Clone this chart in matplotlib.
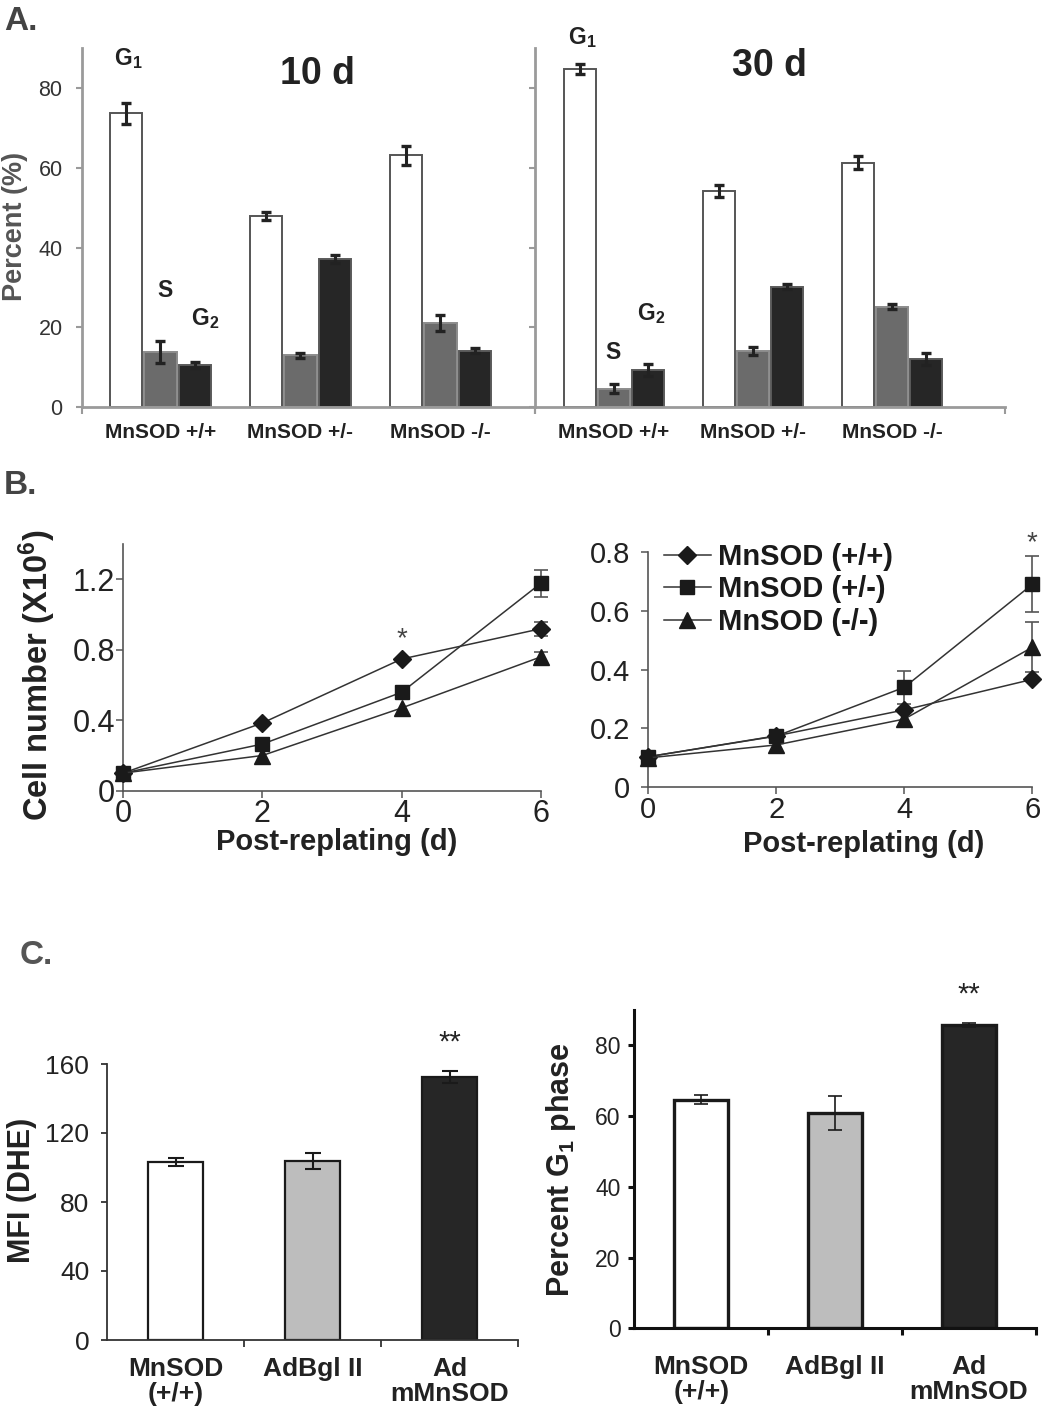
import numpy as np
import matplotlib
matplotlib.use('Agg')
import matplotlib.pyplot as plt
from matplotlib.ticker import FixedLocator

plt.rcParams['font.family'] = ['Liberation Sans', 'DejaVu Sans']
plt.rcParams['mathtext.fontset'] = 'custom'
plt.rcParams['mathtext.rm'] = 'Liberation Sans'
plt.rcParams['mathtext.bf'] = 'Liberation Sans:bold'
plt.rcParams['mathtext.it'] = 'Liberation Sans:italic'

# ---------------- data ----------------
genotypes = ['MnSOD +/+', 'MnSOD +/-', 'MnSOD -/-']
phase_labels = [r'$\mathbf{G_1}$', 'S', r'$\mathbf{G_2}$']

d10_g1 = [73.6, 48.0, 63.1]
d10_g1_err = [2.7, 1.0, 2.3]
d10_s = [13.8, 13.0, 21.1]
d10_s_err = [2.7, 0.6, 2.0]
d10_g2 = [10.6, 37.1, 14.2]
d10_g2_err = [0.7, 1.0, 0.7]

d30_g1 = [84.75, 54.3, 61.3]
d30_g1_err = [1.2, 1.5, 1.6]
d30_s = [4.65, 14.1, 25.2]
d30_s_err = [1.1, 1.0, 0.7]
d30_g2 = [9.25, 30.2, 12.1]
d30_g2_err = [1.5, 0.6, 1.5]

days = [0, 2, 4, 6]
series_names = ['MnSOD (+/+)', 'MnSOD (+/-)', 'MnSOD (-/-)']
b1_wt = [0.10, 0.385, 0.748, 0.92]
b1_wt_err = [0, 0, 0, 0.04]
b1_het = [0.10, 0.265, 0.559, 1.178]
b1_het_err = [0, 0, 0, 0.075]
b1_ko = [0.10, 0.20, 0.47, 0.76]
b1_ko_err = [0, 0, 0, 0.03]

b2_wt = [0.104, 0.175, 0.263, 0.367]
b2_wt_err = [0, 0, 0, 0]
b2_het = [0.104, 0.174, 0.34, 0.69]
b2_het_err = [0, 0, 0.057, 0.095]
b2_ko = [0.10, 0.144, 0.232, 0.476]
b2_ko_err = [0, 0, 0, 0.085]

c_groups = ['MnSOD\n(+/+)', 'AdBgl II', 'Ad\nmMnSOD']
mfi = [103.0, 103.8, 152.5]
mfi_err = [2.3, 4.4, 3.5]
g1pct = [64.6, 60.85, 85.8]
g1pct_err = [1.3, 4.9, 0.6]

# ---------------- layout ----------------
W, H = 1050, 1415
fig = plt.figure(figsize=(W / 100, H / 100), dpi=100)


def rect(x0, x1, yt, yb):
    return [x0 / W, 1 - yb / H, (x1 - x0) / W, (yb - yt) / H]


# ================= Panel A =================
AGREY = '#9a9a9a'


def panel_a(ax, g1, g1e, s, se, g2, ge, xlim, show_ylabels):
    x = np.arange(len(genotypes))
    specs = [(-0.245, g1, g1e, 'white', '#555555'),
             (0.0, s, se, '#6b6b6b', '#8c8c8c'),
             (0.245, g2, ge, '#262626', '#5a5a5a')]
    for off, vals, errs, fc, ec in specs:
        ax.bar(x + off, vals, 0.23, color=fc, edgecolor=ec, linewidth=1.4, zorder=2)
        ax.errorbar(x + off, vals, yerr=errs, fmt='none', ecolor='#222222',
                    elinewidth=2.2, capsize=3.5, capthick=2.4, zorder=3)
    ax.set_xlim(*xlim)
    ax.set_ylim(0, 90)
    for sp in ['top', 'right']:
        ax.spines[sp].set_visible(False)
    for sp in ['left', 'bottom']:
        ax.spines[sp].set_color(AGREY)
        ax.spines[sp].set_linewidth(2)
    ax.set_yticks([0, 20, 40, 60, 80])
    ax.tick_params(axis='y', direction='out', length=4, width=1.5, color=AGREY,
                   labelsize=15.5, labelcolor='#333333', pad=10, labelleft=show_ylabels)
    ax.set_xticks(x)
    ax.set_xticklabels(genotypes, fontsize=15, fontweight='bold', color='#222222')
    ax.tick_params(axis='x', which='major', length=0, pad=11)
    ax.xaxis.set_minor_locator(FixedLocator([xlim[0], xlim[1]]))
    ax.tick_params(axis='x', which='minor', direction='out', length=5, width=1.5, color=AGREY)


axA1 = fig.add_axes(rect(82, 535, 48, 407.3))
panel_a(axA1, d10_g1, d10_g1_err, d10_s, d10_s_err, d10_g2, d10_g2_err, (-0.56, 2.675), True)
axA2 = fig.add_axes(rect(535, 1005, 48, 407.3))
panel_a(axA2, d30_g1, d30_g1_err, d30_s, d30_s_err, d30_g2, d30_g2_err, (-0.568, 2.81), False)

axA1.text(1.12, 83.6, '10 d', fontsize=27, fontweight='bold', ha='center', va='center', color='#222222')
axA2.text(1.12, 85.6, '30 d', fontsize=27, fontweight='bold', ha='center', va='center', color='#222222')

for ax, pos in [(axA1, [(-0.23, 87.3), (0.03, 29.3), (0.32, 22.3)]),
                (axA2, [(-0.23, 92.6), (-0.01, 13.8), (0.27, 23.6)])]:
    for lab, (px, py) in zip(phase_labels, pos):
        ax.text(px, py, lab, fontsize=16.5, fontweight='bold', ha='center', va='center',
                color='#222222', clip_on=False)

fig.text(15 / W, 1 - 226 / H, 'Percent (%)', rotation=90, fontsize=19.5, fontweight='bold',
         color='#555555', ha='center', va='center')
fig.text(4 / W, 1 - 22 / H, 'A.', fontsize=24, fontweight='bold', color='#444444', ha='left', va='center')

# ================= Panel B =================
BGREY = '#555555'
markers = ['D', 's', '^']
msizes = [9.5, 10.5, 12]


def panel_b(ax, series, errs, ylim, yticks, yticklabels, ylabsize, ypad):
    handles = []
    for vals, err, m, ms in zip(series, errs, markers, msizes):
        idx = [i for i, e in enumerate(err) if e > 0]
        if idx:
            ax.errorbar([days[i] for i in idx], [vals[i] for i in idx],
                        yerr=[err[i] for i in idx], fmt='none', ecolor='#555555',
                        elinewidth=1.2, capsize=5, capthick=1.2, zorder=2, clip_on=False)
        ln, = ax.plot(days, vals, color='#333333', lw=1.1, marker=m, ms=ms,
                      mfc='#1a1a1a', mec='#1a1a1a', zorder=3, clip_on=False)
        handles.append(ln)
    ax.set_xlim(0, 6)
    ax.set_ylim(*ylim)
    for sp in ['top', 'right']:
        ax.spines[sp].set_visible(False)
    for sp in ['left', 'bottom']:
        ax.spines[sp].set_color(BGREY)
        ax.spines[sp].set_linewidth(1.2)
    ax.set_xticks(days)
    ax.set_xticklabels([str(d) for d in days])
    ax.set_yticks(yticks)
    ax.set_yticklabels(yticklabels)
    ax.tick_params(direction='out', length=5, width=1.1, color=BGREY,
                   labelsize=ylabsize, labelcolor='#222222')
    ax.tick_params(axis='y', pad=ypad)
    ax.tick_params(axis='x', pad=1)
    return handles


axB1 = fig.add_axes(rect(123.3, 540.7, 544.3, 790.7))
panel_b(axB1, [b1_wt, b1_het, b1_ko], [b1_wt_err, b1_het_err, b1_ko_err],
        (0, 1.4), [0, 0.4, 0.8, 1.2], ['0', '0.4', '0.8', '1.2'], 22, 1)
axB2 = fig.add_axes(rect(648.3, 1032.3, 552, 787.3))
hB2 = panel_b(axB2, [b2_wt, b2_het, b2_ko], [b2_wt_err, b2_het_err, b2_ko_err],
              (0, 0.8), [0, 0.2, 0.4, 0.6, 0.8], ['0', '0.2', '0.4', '0.6', '0.8'], 21, 8)

axB1.text(4, 0.86, '*', fontsize=20, ha='center', va='center', color='#444444')
axB2.text(6, 0.83, '*', fontsize=20, ha='center', va='center', color='#444444', clip_on=False)

leg = axB2.legend(hB2, series_names, loc='upper left',
                  bbox_to_anchor=(664 / W, 1 - 543 / H), bbox_transform=fig.transFigure,
                  frameon=False, borderpad=0, borderaxespad=0, handlelength=1.6,
                  handletextpad=0.25, labelspacing=0.15,
                  prop={'size': 21, 'weight': 'bold'})
for t in leg.get_texts():
    t.set_color('#1a1a1a')

fig.text(37 / W, 1 - 675 / H, r'Cell number (X10$^{\mathbf{6}}$)', rotation=90, fontsize=23.5,
         fontweight='bold', color='#222222', ha='center', va='center')
fig.text(337 / W, 1 - 842 / H, 'Post-replating (d)', fontsize=21, fontweight='bold',
         color='#222222', ha='center', va='center')
fig.text(864 / W, 1 - 844 / H, 'Post-replating (d)', fontsize=21, fontweight='bold',
         color='#222222', ha='center', va='center')
fig.text(4 / W, 1 - 485 / H, 'B.', fontsize=24, fontweight='bold', color='#444444', ha='left', va='center')

# ================= Panel C =================
c_colors = ['white', '#bdbdbd', '#262626']


def panel_c(ax, vals, errs, ylim, yticks, spine_c, spine_w, bar_lw, err_lw, cap,
            ylabsize, ypad, xpad):
    x = np.arange(len(c_groups))
    ax.bar(x, vals, 0.4, color=c_colors, edgecolor='#1a1a1a', linewidth=bar_lw, zorder=2)
    ax.errorbar(x, vals, yerr=errs, fmt='none', ecolor='#1a1a1a', elinewidth=err_lw,
                capsize=cap, capthick=err_lw, zorder=3)
    ax.set_xlim(-0.5, 2.5)
    ax.set_ylim(*ylim)
    for sp in ['top', 'right']:
        ax.spines[sp].set_visible(False)
    for sp in ['left', 'bottom']:
        ax.spines[sp].set_color(spine_c)
        ax.spines[sp].set_linewidth(spine_w)
    ax.set_yticks(yticks)
    ax.tick_params(axis='y', direction='out', length=4, width=spine_w, color=spine_c,
                   labelsize=ylabsize, labelcolor='#222222', pad=ypad)
    ax.set_xticks(x)
    labs = ax.set_xticklabels(c_groups, fontsize=19, fontweight='bold', color='#222222',
                              linespacing=1.05)
    for lab in labs:
        lab.set_multialignment('center')
    ax.tick_params(axis='x', which='major', length=0, pad=xpad)
    ax.xaxis.set_minor_locator(FixedLocator([0.5, 1.5, 2.5]))
    ax.tick_params(axis='x', which='minor', direction='out', length=5, width=spine_w, color=spine_c)


axC1 = fig.add_axes(rect(107.3, 518, 1064, 1340))
panel_c(axC1, mfi, mfi_err, (0, 160), [0, 40, 80, 120, 160], '#333333', 1.3, 1.6, 1.5, 6,
        19, 9, 12)
axC1.text(2, 172.5, '**', fontsize=21, ha='center', va='center', color='#222222', clip_on=False)

axC2 = fig.add_axes(rect(634.3, 1035.7, 1010, 1328.3))
panel_c(axC2, g1pct, g1pct_err, (0, 90), [0, 20, 40, 60, 80], '#111111', 2.2, 2.4, 1.2, 5,
        16.5, 6, 19)
axC2.text(2, 94.5, '**', fontsize=21, ha='center', va='center', color='#222222', clip_on=False)

fig.text(22 / W, 1 - 1190 / H, 'MFI (DHE)', rotation=90, fontsize=22, fontweight='bold',
         color='#222222', ha='center', va='center')
fig.text(561 / W, 1 - 1170 / H, r'Percent G$_{\mathbf{1}}$ phase', rotation=90, fontsize=22,
         fontweight='bold', color='#222222', ha='center', va='center')
fig.text(20 / W, 1 - 956 / H, 'C.', fontsize=24, fontweight='bold', color='#555555', ha='left', va='center')

fig.savefig('out.png', dpi=100, facecolor='white')
